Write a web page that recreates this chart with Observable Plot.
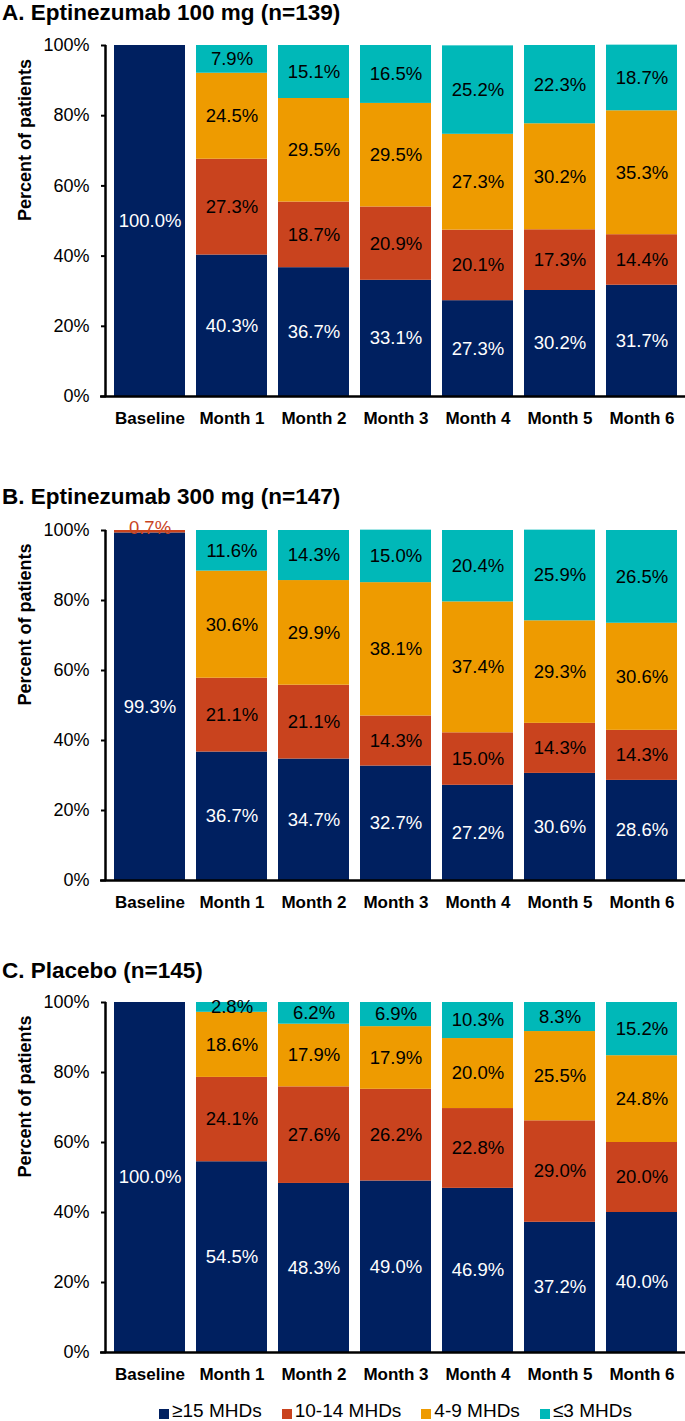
<!DOCTYPE html>
<html>
<head>
<meta charset="utf-8">
<script src="https://cdn.jsdelivr.net/npm/d3@7"></script>
<script src="https://cdn.jsdelivr.net/npm/@observablehq/plot@0.6"></script>
<style>
  body { margin: 0; background: #fff; font-family: "Liberation Sans", Arial, sans-serif; color: #000; }
  #root { position: relative; width: 685px; height: 1421px; overflow: hidden; }
  .panel { position: absolute; left: 0; width: 685px; }
  .title { font-size: 22.5px; font-weight: bold; line-height: 26px; height: 33px; padding-left: 2px; white-space: nowrap; }
  .panel svg { display: block; }
  .legend { position: absolute; left: 106px; width: 579px; top: 1397px; height: 28px; line-height: 28px;
            display: flex; justify-content: center; align-items: center; font-size: 19px; white-space: nowrap; }
  .legend .item { display: flex; align-items: center; margin: 0 10px; }
  .legend .sw { width: 10px; height: 10px; margin-right: 3px; margin-top: 5px; }
</style>
</head>
<body>
<div id="root"></div>
<script>
// ---------- data ----------
const categories = ["Baseline", "Month 1", "Month 2", "Month 3", "Month 4", "Month 5", "Month 6"];
const seriesNames = ["≥15 MHDs", "10-14 MHDs", "4-9 MHDs", "≤3 MHDs"];
const seriesColors = ["#002060", "#C9431E", "#EE9B00", "#00B8B8"];
const panelTitles = ["A. Eptinezumab 100 mg (n=139)", "B. Eptinezumab 300 mg (n=147)", "C. Placebo (n=145)"];
const yTicks = [0, 20, 40, 60, 80, 100];
const yLabel = "Percent of patients";

const a_ge15   = [100.0, 40.3, 36.7, 33.1, 27.3, 30.2, 31.7];
const a_10to14 = [0, 27.3, 18.7, 20.9, 20.1, 17.3, 14.4];
const a_4to9   = [0, 24.5, 29.5, 29.5, 27.3, 30.2, 35.3];
const a_le3    = [0, 7.9, 15.1, 16.5, 25.2, 22.3, 18.7];

const b_ge15   = [99.3, 36.7, 34.7, 32.7, 27.2, 30.6, 28.6];
const b_10to14 = [0.7, 21.1, 21.1, 14.3, 15.0, 14.3, 14.3];
const b_4to9   = [0, 30.6, 29.9, 38.1, 37.4, 29.3, 30.6];
const b_le3    = [0, 11.6, 14.3, 15.0, 20.4, 25.9, 26.5];

const c_ge15   = [100.0, 54.5, 48.3, 49.0, 46.9, 37.2, 40.0];
const c_10to14 = [0, 24.1, 27.6, 26.2, 22.8, 29.0, 20.0];
const c_4to9   = [0, 18.6, 17.9, 17.9, 20.0, 25.5, 24.8];
const c_le3    = [0, 2.8, 6.2, 6.9, 10.3, 8.3, 15.2];

// ---------- layout ----------
const FONT = "'Liberation Sans', Arial, sans-serif";
const ML = 106;
const LABEL_SIZE = 18.5;
const panels = [
  {title: panelTitles[0], series: [a_ge15, a_10to14, a_4to9, a_le3], top: 0,   h: 451, mt: 12, plotH: 351},
  {title: panelTitles[1], series: [b_ge15, b_10to14, b_4to9, b_le3], top: 484, h: 441, mt: 13, plotH: 350},
  {title: panelTitles[2], series: [c_ge15, c_10to14, c_4to9, c_le3], top: 958, h: 405, mt: 11, plotH: 350}
];
const fmt = v => v.toFixed(1) + "%";
const root = document.getElementById("root");

for (const p of panels) {
  const rows = [];
  categories.forEach((cat, i) => {
    p.series.forEach((arr, k) => {
      if (arr[i] > 0) rows.push({cat, series: seriesNames[k], value: arr[i]});
    });
  });
  const base = {x: "cat", y: "value", z: "series"};
  const chart = Plot.plot({
    width: 685,
    height: p.h,
    marginLeft: ML,
    marginRight: 0,
    marginTop: p.mt,
    marginBottom: p.h - p.mt - p.plotH,
    style: {fontFamily: FONT, fontSize: "18px", color: "#000", background: "#fff", overflow: "visible"},
    x: {domain: categories, paddingInner: 0.133, paddingOuter: 0.07, label: null},
    y: {domain: [0, 100], label: null},
    color: {domain: seriesNames, range: seriesColors},
    marks: [
      Plot.barY(rows, {x: "cat", y: "value", fill: "series"}),
      Plot.text(rows, Plot.stackY({...base, text: d => d.series === seriesNames[0] && d.value >= 1.5 ? fmt(d.value) : null,
        fill: "#fff", fontSize: LABEL_SIZE})),
      Plot.text(rows, Plot.stackY({...base, text: d => d.series !== seriesNames[0] && d.value >= 1.5 ? fmt(d.value) : null,
        fill: "#000", fontSize: LABEL_SIZE})),
      Plot.text(rows, Plot.stackY2({...base, text: d => d.value < 1.5 ? fmt(d.value) : null,
        fill: seriesColors[1], fontSize: LABEL_SIZE, lineAnchor: "bottom", dy: 3})),
      Plot.ruleY([0], {stroke: "#000", strokeWidth: 2.5, insetLeft: -6}),
      Plot.axisY({ticks: yTicks, tickFormat: d => d + "%", tickSize: 5, tickPadding: 12, strokeWidth: 2,
        label: null, fontSize: 18}),
      Plot.axisX({tickSize: 0, tickPadding: 15, fontWeight: "bold", fontSize: 17, label: null}),
      Plot.text([yLabel], {text: d => d, frameAnchor: "left", rotate: -90, dx: -81, fontWeight: "bold", fontSize: 18})
    ]
  });
  // vertical y-axis domain line from the y scale
  const ys = chart.scale("y");
  d3.select(chart).append("line")
    .attr("x1", ML - 0.5).attr("x2", ML - 0.5)
    .attr("y1", ys.apply(0)).attr("y2", ys.apply(100))
    .attr("stroke", "#000").attr("stroke-width", 2.5);

  const div = document.createElement("div");
  div.className = "panel";
  div.style.top = p.top + "px";
  const t = document.createElement("div");
  t.className = "title";
  t.textContent = p.title;
  div.appendChild(t);
  div.appendChild(chart);
  root.appendChild(div);
}

// legend
const leg = document.createElement("div");
leg.className = "legend";
seriesNames.forEach((name, k) => {
  const item = document.createElement("div");
  item.className = "item";
  const sw = document.createElement("span");
  sw.className = "sw";
  sw.style.background = seriesColors[k];
  const lab = document.createElement("span");
  lab.textContent = name;
  item.appendChild(sw);
  item.appendChild(lab);
  leg.appendChild(item);
});
root.appendChild(leg);
</script>
</body>
</html>
